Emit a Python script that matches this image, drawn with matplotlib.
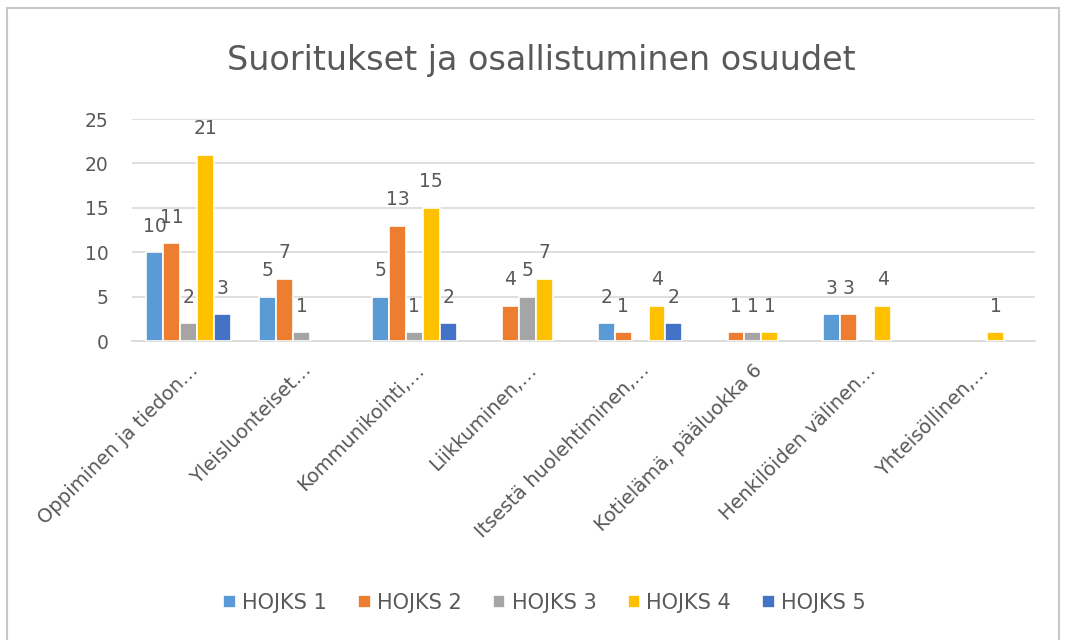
import numpy as np
import matplotlib
matplotlib.use("Agg")
import matplotlib.pyplot as plt
from matplotlib.patches import Rectangle

plt.rcParams['font.family'] = ['DejaVu Sans']

categories = [
    "Oppiminen ja tiedon…",
    "Yleisluonteiset…",
    "Kommunikointi,…",
    "Liikkuminen,…",
    "Itsestä huolehtiminen,…",
    "Kotielämä, pääluokka 6",
    "Henkilöiden välinen…",
    "Yhteisöllinen,…",
]
series_names = ["HOJKS 1", "HOJKS 2", "HOJKS 3", "HOJKS 4", "HOJKS 5"]
# None = empty cell (no bar, no label)
hojks1 = [10, 5, 5, None, 2, None, 3, None]
hojks2 = [11, 7, 13, 4, 1, 1, 3, None]
hojks3 = [2, 1, 1, 5, None, 1, None, None]
hojks4 = [21, None, 15, 7, 4, 1, 4, 1]
hojks5 = [3, None, 2, None, 2, None, None, None]
colors = ["#5B9BD5", "#ED7D31", "#A5A5A5", "#FFC000", "#4472C4"]

all_series = [hojks1, hojks2, hojks3, hojks4, hojks5]

TXT = "#595959"
GRID = "#D9D9D9"

fig = plt.figure(figsize=(10.66, 6.4), dpi=100)
ax = fig.add_axes([0.124, 0.467, 0.847, 0.347])

x = np.arange(len(categories))
slot = 0.15
for i, (name, vals) in enumerate(zip(series_names, all_series)):
    pos = x + (i - 2) * slot
    h = [np.nan if v is None else v for v in vals]
    ax.bar(pos, h, width=slot, color=colors[i], edgecolor="white",
           linewidth=1.2, label=name, zorder=3)
    for px, v in zip(pos, vals):
        if v is None:
            continue
        ax.annotate(str(v), (px, v), xytext=(0, 12), textcoords="offset points",
                    ha="center", va="bottom", fontsize=13.5, color=TXT)

ax.set_xlim(-0.5, len(categories) - 0.5)
ax.set_ylim(0, 25)
ax.set_yticks([0, 5, 10, 15, 20, 25])
ax.yaxis.grid(True, color=GRID, linewidth=1.2, zorder=0)
ax.set_axisbelow(True)
for s in ["top", "right", "left"]:
    ax.spines[s].set_visible(False)
ax.spines["bottom"].set_color(GRID)
ax.spines["bottom"].set_linewidth(1.2)
ax.tick_params(axis="both", length=0, colors=TXT, labelsize=13.5)
ax.tick_params(axis="y", pad=17)
ax.set_xticks(x)
ax.set_xticklabels(categories, rotation=45, ha="right", va="top",
                   rotation_mode="anchor", fontsize=14, color=TXT)
ax.tick_params(axis="x", pad=14)

fig.text(0.5075, 0.905, "Suoritukset ja osallistuminen osuudet", ha="center",
         va="center", fontsize=24, color=TXT)

handles, labels = ax.get_legend_handles_labels()
fig.legend(handles, labels, loc="center", bbox_to_anchor=(0.511, 0.058),
           ncol=5, frameon=False, fontsize=15, labelcolor=TXT,
           handlelength=0.6, handleheight=0.6, handletextpad=0.3,
           columnspacing=1.5)

fig.patches.append(Rectangle((0.007, -0.01), 0.986, 0.998, transform=fig.transFigure,
                             fill=False, edgecolor="#C8C8C8", linewidth=1.5))

fig.savefig("out.png", dpi=100)
